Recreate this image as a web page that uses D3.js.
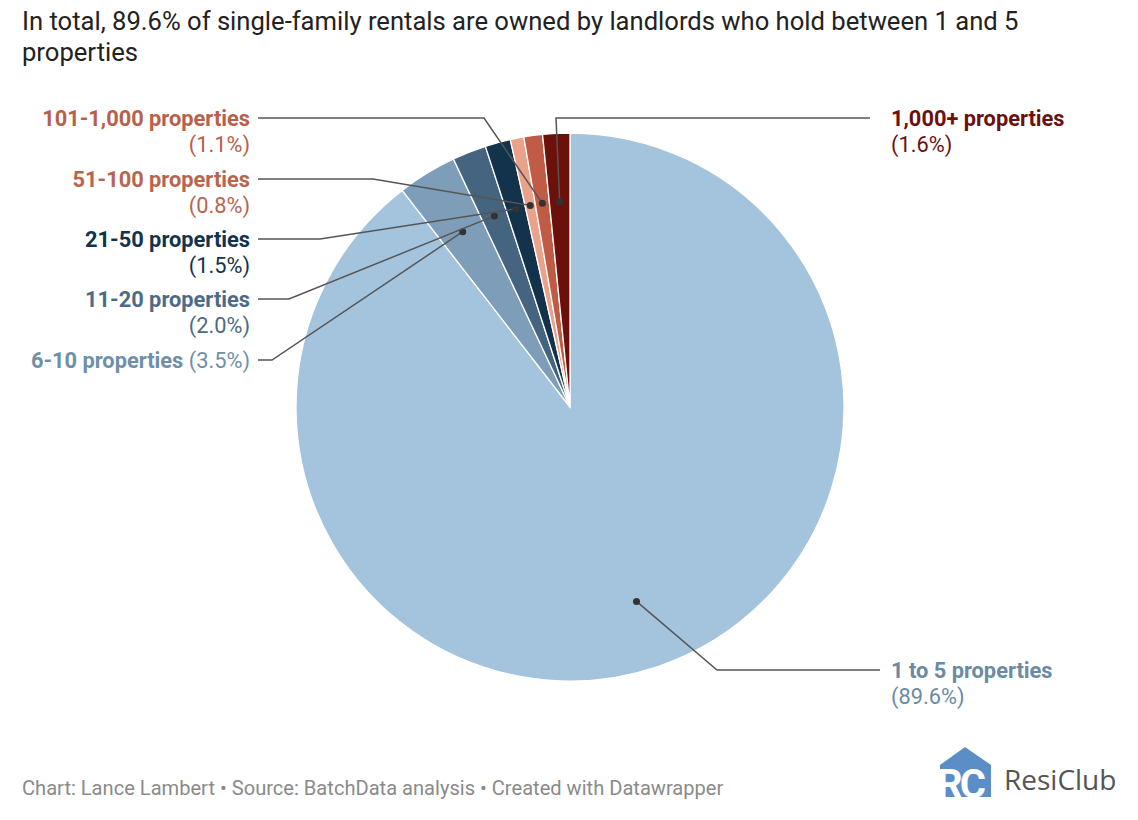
<!DOCTYPE html>
<html>
<head>
<meta charset="utf-8">
<script src="https://cdn.jsdelivr.net/npm/d3@7"></script>
<style>
  body { margin: 0; background: #fff; font-family: Roboto, sans-serif; }
  svg { display: block; }
</style>
</head>
<body>
<svg width="1138" height="820"></svg>
<script>
// data
var categories = ["1 to 5 properties", "6-10 properties", "11-20 properties", "21-50 properties",
  "51-100 properties", "101-1,000 properties", "1,000+ properties"];
var shares = [89.6, 3.5, 2.0, 1.5, 0.8, 1.1, 1.6];
var sliceColors = ["#a4c4dd", "#7d9db8", "#45647f", "#12334b", "#eaa28b", "#c05c46", "#6b100b"];
var labelColors = ["#6b8aa4", "#6f8fa9", "#4d6b86", "#12334b", "#b8654f", "#b8604b", "#6b1010"];

// layout of the labels (anchor x, first line y, line end x, elbow x, side, single line)
var labelLayout = [
  { x: 891, y: 670, end: 880, elbow: 717, side: "right", one: false },
  { x: 250, y: 360, end: 258, elbow: 272, side: "left", one: true },
  { x: 250, y: 299, end: 258, elbow: 289, side: "left", one: false },
  { x: 250, y: 239, end: 258, elbow: 320, side: "left", one: false },
  { x: 250, y: 179, end: 258, elbow: 373, side: "left", one: false },
  { x: 250, y: 118, end: 258, elbow: 484, side: "left", one: false },
  { x: 891, y: 118, end: 870, elbow: 556, side: "right", one: false }
];

var svg = d3.select("svg");
var cx = 570, cy = 407, radius = 274;
var labelSize = 21.8;

svg.append("text")
  .attr("x", 22).attr("y", 30)
  .attr("font-size", 25.6).attr("fill", "#222")
  .text("In total, 89.6% of single-family rentals are owned by landlords who hold between 1 and 5");
svg.append("text")
  .attr("x", 22).attr("y", 61)
  .attr("font-size", 25.6).attr("fill", "#222")
  .text("properties");

var pie = d3.pie().sort(null).value((d) => d.value);
var arcs = pie(categories.map((c, i) => ({ name: c, value: shares[i], i: i })));
var arc = d3.arc().innerRadius(0).outerRadius(radius);
var dotArc = d3.arc().innerRadius(radius * 0.75).outerRadius(radius * 0.75);

var g = svg.append("g").attr("transform", "translate(" + cx + "," + cy + ")");

g.selectAll("path.slice")
  .data(arcs)
  .enter()
  .append("path")
  .attr("class", "slice")
  .attr("d", arc)
  .attr("fill", (d) => sliceColors[d.data.i])
  .attr("stroke", "#fff")
  .attr("stroke-width", 1.3);

// leader lines
var lines = svg.append("g");
arcs.forEach(function (d) {
  var L = labelLayout[d.data.i];
  var c = dotArc.centroid(d);
  var px = cx + c[0], py = cy + c[1];
  lines.append("path")
    .attr("d", "M" + L.end + "," + L.y + "L" + L.elbow + "," + L.y + "L" + px + "," + py)
    .attr("fill", "none")
    .attr("stroke", "#555")
    .attr("stroke-width", 1.5);
  lines.append("circle")
    .attr("cx", px).attr("cy", py).attr("r", 3.5)
    .attr("fill", "#333");
});

// labels
var labels = svg.append("g");
arcs.forEach(function (d) {
  var i = d.data.i;
  var L = labelLayout[i];
  var pct = "(" + shares[i].toFixed(1) + "%)";
  var anchor = L.side === "left" ? "end" : "start";
  var t = labels.append("text")
    .attr("x", L.x)
    .attr("y", L.y + 8)
    .attr("font-size", labelSize)
    .attr("fill", labelColors[i])
    .attr("text-anchor", anchor);
  t.append("tspan").attr("font-weight", "bold").text(d.data.name);
  if (L.one) {
    t.append("tspan").text(" " + pct);
  } else {
    labels.append("text")
      .attr("x", L.x)
      .attr("y", L.y + 34)
      .attr("font-size", labelSize)
      .attr("fill", labelColors[i])
      .attr("text-anchor", anchor)
      .text(pct);
  }
});

// footer
svg.append("text")
  .attr("x", 22).attr("y", 795)
  .attr("font-size", 20.1).attr("fill", "#8a8a8a")
  .text("Chart: Lance Lambert \u2022 Source: BatchData analysis \u2022 Created with Datawrapper");

// logo
var logo = svg.append("g");
logo.append("path")
  .attr("d", "M940,765 L965,747 L991,765 L991,797 L940,797 Z")
  .attr("fill", "#5b8ec6");
logo.append("text")
  .attr("x", 937).attr("y", 798)
  .attr("font-size", 40).attr("font-weight", "bold")
  .attr("fill", "#fff")
  .attr("letter-spacing", -3)
  .text("RC");
logo.append("text")
  .attr("x", 1004).attr("y", 790)
  .attr("font-size", 28).attr("fill", "#555")
  .attr("font-family", "'Open Sans', sans-serif")
  .text("ResiClub");
</script>
</body>
</html>
